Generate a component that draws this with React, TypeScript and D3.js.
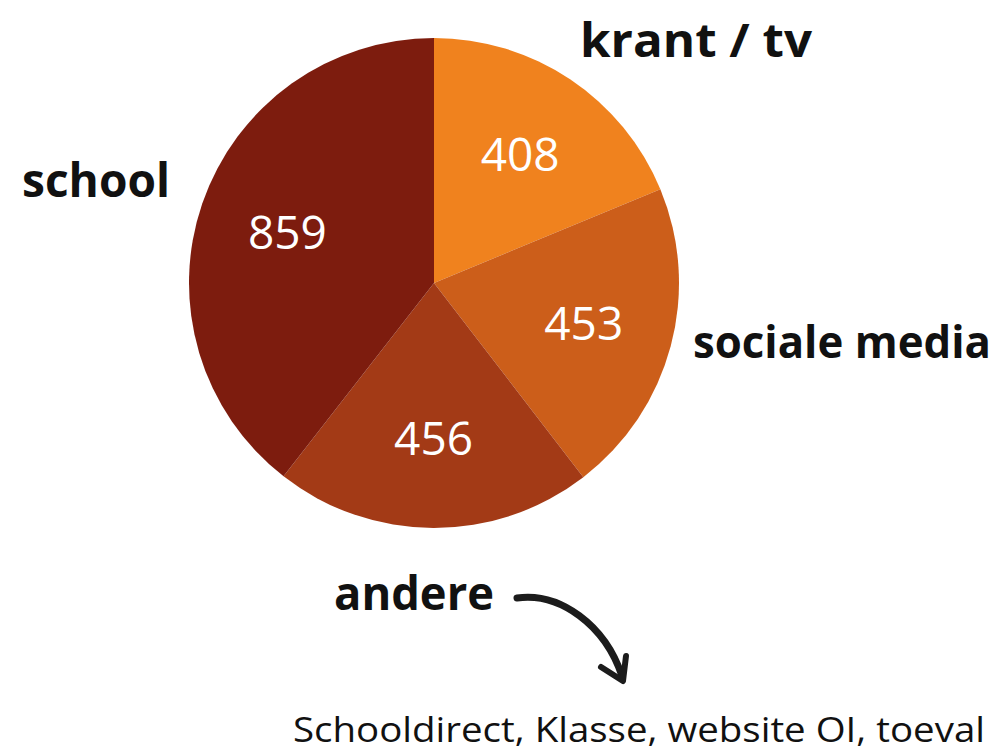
import React from "react";
import * as d3 from "d3";

const categories = ["krant / tv", "sociale media", "andere", "school"];
const values = [408, 453, 456, 859];
const colors = ["#F0821E", "#CC5E1A", "#A33A16", "#7D1C0E"];
const footnote = "Schooldirect, Klasse, website OI, toeval";

const W = 1003;
const H = 753;
const cx = 434;
const cy = 283;
const R = 245;

// label positions (outer category labels)
const labelPos = [
  { x: 580, y: 57, len: 232, size: 46 },
  { x: 693, y: 358, len: 298, size: 44 },
  { x: 334, y: 610, len: 160, size: 46 },
  { x: 22, y: 197, len: 148, size: 46 },
];

export default function App() {
  const pie = d3.pie<number>().sort(null).value((d) => d)(values);
  const arc = d3.arc<d3.PieArcDatum<number>>().innerRadius(0).outerRadius(R);
  const labelArc = d3
    .arc<d3.PieArcDatum<number>>()
    .innerRadius(300)
    .outerRadius(10);

  return (
    <svg
      width={W}
      height={H}
      viewBox={`0 0 ${W} ${H}`}
      style={{ position: "absolute", left: 0, top: 0, background: "#fff" }}
    >
      <g transform={`translate(${cx},${cy})`}>
        {pie.map((p, i) => (
          <path key={i} d={arc(p) || ""} fill={colors[i]} />
        ))}
        {pie.map((p, i) => {
          const [x, y] = labelArc.centroid(p);
          return (
            <text
              key={"v" + i}
              x={x}
              y={y}
              dy="0.36em"
              textAnchor="middle"
              fill="#fff"
              fontFamily="'Open Sans', sans-serif"
              fontSize={46}
            >
              {values[i]}
            </text>
          );
        })}
      </g>
      {categories.map((c, i) => (
        <text
          key={"c" + i}
          x={labelPos[i].x}
          y={labelPos[i].y}
          fill="#111"
          fontFamily="'Open Sans', sans-serif"
          fontWeight={700}
          fontSize={labelPos[i].size}
          textLength={labelPos[i].len}
          lengthAdjust="spacingAndGlyphs"
        >
          {c}
        </text>
      ))}
      <path
        d="M517,598 C560,592 605,625 622,676"
        fill="none"
        stroke="#1c1c1c"
        strokeWidth={7}
        strokeLinecap="round"
      />
      <path
        d="M601,667 L623,681 L626,656"
        fill="none"
        stroke="#1c1c1c"
        strokeWidth={6}
        strokeLinecap="round"
        strokeLinejoin="round"
      />
      <text
        x={293}
        y={742}
        fill="#111"
        fontFamily="'Open Sans', sans-serif"
        fontSize={35}
        textLength={692}
        lengthAdjust="spacingAndGlyphs"
      >
        {footnote}
      </text>
    </svg>
  );
}
